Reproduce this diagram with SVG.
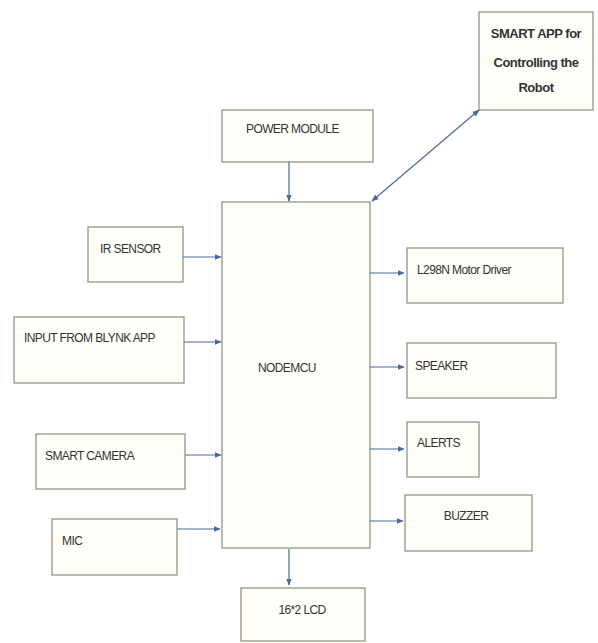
<svg xmlns="http://www.w3.org/2000/svg" width="598" height="643" viewBox="0 0 598 643">
<style>
.box{fill:#fffffa;stroke:#8c8c78;stroke-width:1.2}
.t{font-family:"Liberation Sans",Arial,sans-serif;font-size:12px;fill:#333;letter-spacing:-0.6px}
.tb{font-family:"Liberation Sans",Arial,sans-serif;font-size:13px;fill:#333;font-weight:bold;letter-spacing:-0.5px}
.c{stroke:#4a6a9c;stroke-width:1.2;fill:none}
</style>
<defs>
<marker id="ah" viewBox="0 0 10 10" refX="9" refY="5" markerWidth="6" markerHeight="6" orient="auto-start-reverse">
<path d="M0,1 L10,5 L0,9 z" fill="#4a6a9c"/>
</marker>
</defs>
<rect width="598" height="643" fill="#ffffff"/>
<g id="smartapp"><rect class="box" x="479" y="12" width="114" height="98"/>
<text class="tb" x="536" y="38" text-anchor="middle">SMART APP for</text>
<text class="tb" x="536" y="67" text-anchor="middle">Controlling the</text>
<text class="tb" x="536" y="92" text-anchor="middle">Robot</text></g>
<g id="power"><rect class="box" x="222" y="110" width="151" height="52"/>
<text class="t" x="246" y="133">POWER MODULE</text></g>
<g id="nodemcu"><rect class="box" x="222" y="202" width="148" height="346"/>
<text class="t" x="258" y="372">NODEMCU</text></g>
<g id="ir"><rect class="box" x="88" y="227" width="95" height="55"/>
<text class="t" x="100" y="253">IR SENSOR</text></g>
<g id="blynk"><rect class="box" x="14" y="317" width="170" height="66"/>
<text class="t" x="24" y="342">INPUT FROM BLYNK APP</text></g>
<g id="camera"><rect class="box" x="36" y="434" width="149" height="55"/>
<text class="t" x="45" y="460">SMART CAMERA</text></g>
<g id="mic"><rect class="box" x="52" y="519" width="125" height="56"/>
<text class="t" x="62" y="545">MIC</text></g>
<g id="l298n"><rect class="box" x="407" y="248" width="156" height="55"/>
<text class="t" x="417" y="274">L298N Motor Driver</text></g>
<g id="speaker"><rect class="box" x="407" y="343" width="149" height="55"/>
<text class="t" x="415" y="370">SPEAKER</text></g>
<g id="alerts"><rect class="box" x="407" y="422" width="72" height="55"/>
<text class="t" x="417" y="447">ALERTS</text></g>
<g id="buzzer"><rect class="box" x="405" y="495" width="127" height="56"/>
<text class="t" x="466" y="520" text-anchor="middle">BUZZER</text></g>
<g id="lcd"><rect class="box" x="241" y="588" width="124" height="53"/>
<text class="t" x="302" y="614" text-anchor="middle">16*2 LCD</text></g>
<g id="connectors">
<line class="c" x1="289" y1="162" x2="289" y2="201" marker-end="url(#ah)"/>
<line class="c" x1="479" y1="110" x2="372" y2="201" marker-start="url(#ah)" marker-end="url(#ah)"/>
<line class="c" x1="183" y1="257" x2="221" y2="257" marker-end="url(#ah)"/>
<line class="c" x1="184" y1="342" x2="221" y2="342" marker-end="url(#ah)"/>
<line class="c" x1="185" y1="455" x2="221" y2="455" marker-end="url(#ah)"/>
<line class="c" x1="177" y1="529" x2="220" y2="529" marker-end="url(#ah)"/>
<line class="c" x1="370" y1="273" x2="404" y2="273" marker-end="url(#ah)"/>
<line class="c" x1="370" y1="367" x2="404" y2="367" marker-end="url(#ah)"/>
<line class="c" x1="370" y1="449" x2="404" y2="449" marker-end="url(#ah)"/>
<line class="c" x1="370" y1="521" x2="403" y2="521" marker-end="url(#ah)"/>
<line class="c" x1="289" y1="549" x2="289" y2="585" marker-end="url(#ah)"/>
</g>
</svg>
